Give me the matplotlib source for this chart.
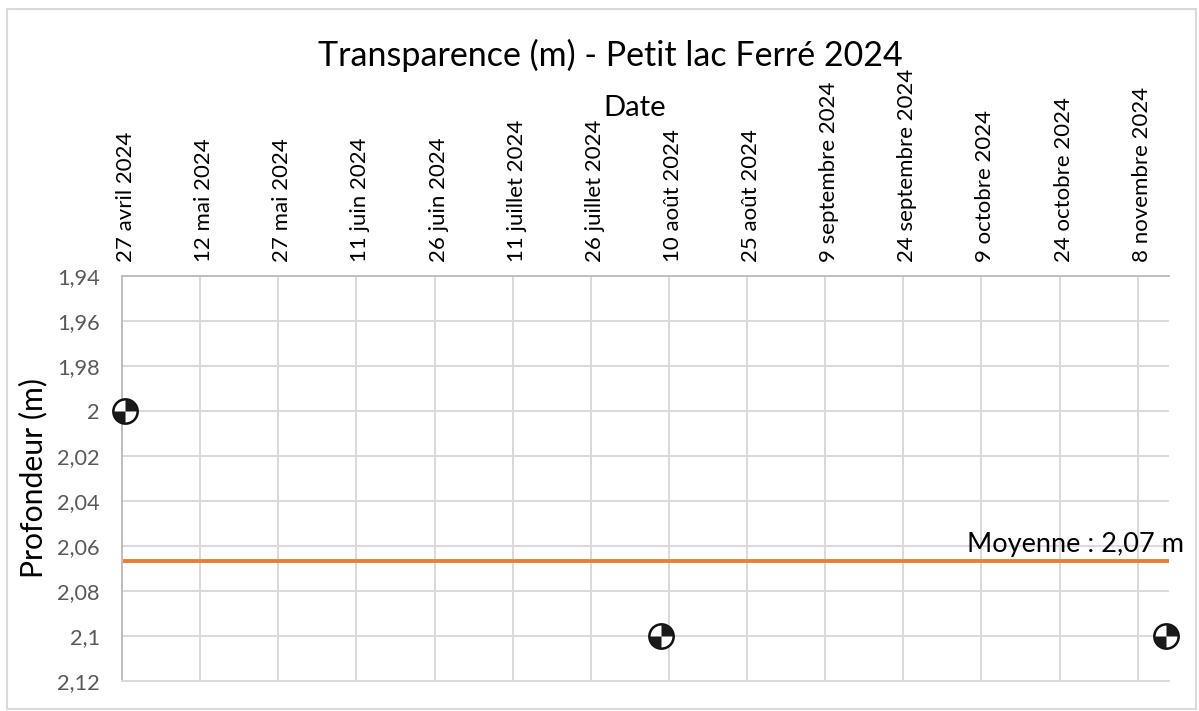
import matplotlib
matplotlib.use("Agg")
import matplotlib.pyplot as plt
import matplotlib.dates as mdates
from matplotlib.patches import Rectangle
from matplotlib.path import Path
from matplotlib.transforms import ScaledTranslation
import datetime as dt

plt.rcParams['font.family'] = ['Lato', 'DejaVu Sans']

# Data
sample_dates = [dt.datetime(2024, 4, 27, 12), dt.datetime(2024, 8, 8, 12), dt.datetime(2024, 11, 13, 12)]
depths = [2.0, 2.1, 2.1]
mean_depth = 2.0667
mean_label = "Moyenne : 2,07 m"
tick_dates = [dt.date(2024, 4, 27), dt.date(2024, 5, 12), dt.date(2024, 5, 27),
              dt.date(2024, 6, 11), dt.date(2024, 6, 26), dt.date(2024, 7, 11),
              dt.date(2024, 7, 26), dt.date(2024, 8, 10), dt.date(2024, 8, 25),
              dt.date(2024, 9, 9), dt.date(2024, 9, 24), dt.date(2024, 10, 9),
              dt.date(2024, 10, 24), dt.date(2024, 11, 8)]
tick_labels = ["27 avril 2024", "12 mai 2024", "27 mai 2024", "11 juin 2024",
               "26 juin 2024", "11 juillet 2024", "26 juillet 2024", "10 août 2024",
               "25 août 2024", "9 septembre 2024", "24 septembre 2024", "9 octobre 2024",
               "24 octobre 2024", "8 novembre 2024"]
y_ticks = [1.94, 1.96, 1.98, 2.0, 2.02, 2.04, 2.06, 2.08, 2.1, 2.12]
y_labels = ["1,94", "1,96", "1,98", "2", "2,02", "2,04", "2,06", "2,08", "2,1", "2,12"]
x_start = dt.date(2024, 4, 27)
x_end = dt.date(2024, 11, 14)

W, H = 1199, 711
fig = plt.figure(figsize=(W / 100, H / 100), dpi=100)
ax = fig.add_axes([122 / W, 1 - 681 / H, (1169 - 122) / W, (681 - 276) / H])

# outer chart border
fig.add_artist(Rectangle((6.5 / W, 1 - 708.5 / H), (1196 - 6.5) / W, (708.5 - 9) / H,
                         transform=fig.transFigure, fill=False, ec="#d9d9d9", lw=1.5))

ax.set_xlim(x_start, x_end)
ax.set_ylim(2.12, 1.94)
ax.xaxis.tick_top()
ax.set_xticks([mdates.date2num(d) for d in tick_dates])
ax.set_xticklabels(tick_labels, rotation=90, fontsize=16, color="black")
ax.set_yticks(y_ticks)
ax.set_yticklabels(y_labels, fontsize=15.7, color="#595959")
ax.tick_params(axis="x", length=0, pad=10)
ax.tick_params(axis="y", length=0, pad=16)
# labels sit a little right of their gridlines
shift = ScaledTranslation(4 / 100, 0, fig.dpi_scale_trans)
for lab in ax.get_xticklabels():
    lab.set_transform(lab.get_transform() + shift)
ax.grid(True, color="#d9d9d9", lw=1.4)
ax.set_axisbelow(True)
for name, spine in ax.spines.items():
    spine.set_color("#bfbfbf" if name in ("left", "top") else "#d9d9d9")
    spine.set_linewidth(1.4)
ax.spines["right"].set_visible(False)

# mean line
ax.plot([x_start, x_end], [mean_depth, mean_depth], color="#ed7d31", lw=2.8, solid_capstyle="butt")
ax.text(mdates.date2num(x_end) + 2.9, mean_depth - 0.0018, mean_label, fontsize=19.5,
        ha="right", va="bottom", color="black", clip_on=False)

# checker disc markers
q1 = Path.wedge(0, 90)
q3 = Path.wedge(180, 270)
ax.plot(sample_dates, depths, ls="none", marker="o", ms=17.5, mfc="white", mec="#111111",
        mew=1.8, clip_on=False, zorder=5)
ax.plot(sample_dates, depths, ls="none", marker=q1, ms=17.5, mfc="#1a1a1a", mec="none",
        clip_on=False, zorder=6)
ax.plot(sample_dates, depths, ls="none", marker=q3, ms=17.5, mfc="#1a1a1a", mec="none",
        clip_on=False, zorder=6)

fig.text(610 / W, 1 - 55 / H, "Transparence (m) - Petit lac Ferré 2024", fontsize=24.5,
         ha="center", va="center", color="black")
fig.text(635 / W, 1 - 108 / H, "Date", fontsize=21, ha="center", va="center", color="black")
fig.text(33 / W, 1 - 478 / H, "Profondeur (m)", fontsize=21.7, rotation=90, ha="center",
         va="center", color="black")

fig.savefig("out.png", dpi=100)
